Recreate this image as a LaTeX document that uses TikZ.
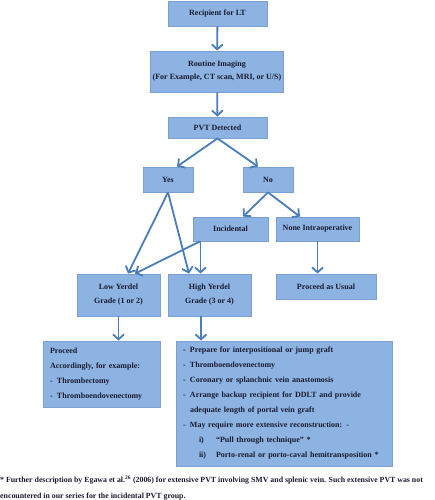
\documentclass[tikz,border=0pt]{standalone}
\usepackage{fontspec}
\setmainfont{Liberation Serif}
\usetikzlibrary{arrows.meta,shadows}

\definecolor{boxfill}{HTML}{8DB3E2}
\definecolor{boxline}{HTML}{7A9FD0}
\definecolor{flowblue}{HTML}{4A7EBB}
\definecolor{ink}{HTML}{1A1A2E}

\begin{document}
\begin{tikzpicture}[x=1pt, y=-1pt,
  box/.style={draw=boxline, fill=boxfill, line width=0.8pt, inner sep=2pt, align=center, text=ink,
    font=\bfseries\fontsize{8}{13}\selectfont,
    drop shadow={shadow xshift=1pt, shadow yshift=-1.2pt, opacity=0.3}},
  listbox/.style={box, align=left, inner xsep=7pt, font=\bfseries\fontsize{8}{15}\selectfont},
  flow/.style={draw=flowblue, line width=1.8pt, -{Straight Barb[length=5pt,width=11pt]}}]

\useasboundingbox (0,0) rectangle (435,500);

% boxes
\node[box, minimum width=99pt, minimum height=25pt] (rec) at (217.5,13.5) {Recipient for LT};
\node[box, minimum width=132pt, minimum height=41pt] (img) at (217,71.5) {Routine Imaging\\(For Example, CT scan, MRI, or U/S)};
\node[box, minimum width=99pt, minimum height=21pt] (pvt) at (217.5,127.5) {PVT Detected};

\node[box, minimum width=50pt, minimum height=25pt] (yes) at (168,179.5) {Yes};
\node[box, minimum width=50pt, minimum height=25pt] (no) at (268,179.5) {No};

\node[box, minimum width=75pt, minimum height=24pt] (inc) at (230.5,229) {Incidental};
\node[box, minimum width=83pt, minimum height=24pt] (none) at (317.5,229) {None Intraoperative};

\node[box, minimum width=83pt, minimum height=42pt, font=\bfseries\fontsize{8}{14}\selectfont] (low) at (118.5,295) {Low Yerdel\\Grade (1 or 2)};
\node[box, minimum width=83pt, minimum height=42pt, font=\bfseries\fontsize{8}{14}\selectfont] (high) at (209.5,295) {High Yerdel\\Grade (3 or 4)};
\node[box, minimum width=100pt, minimum height=25pt] (usual) at (326,286.5) {Proceed as Usual};

\node[listbox, text width=103pt, minimum height=66pt] (proc) at (101.5,374) {Proceed\\
Accordingly, for example:\\
\makebox[7pt][l]{-}Thrombectomy\\
\makebox[7pt][l]{-}Thromboendovenectomy};

\node[listbox, text width=202pt, minimum height=125pt] (plan) at (284,403.5) {\makebox[7pt][l]{-}Prepare for interpositional or jump graft\\
\makebox[7pt][l]{-}Thromboendovenectomy\\
\makebox[7pt][l]{-}Coronary or splanchnic vein anastomosis\\
\makebox[7pt][l]{-}Arrange backup recipient for DDLT and provide\\
\hspace*{7pt}adequate length of portal vein graft\\
\makebox[7pt][l]{-}May require more extensive reconstruction: -\\
\hspace*{16pt}\makebox[17pt][l]{i)}``Pull through technique'' *\\
\hspace*{16pt}\makebox[17pt][l]{ii)}Porto-renal or porto-caval hemitransposition *};

% footnote
\node[anchor=north west, inner sep=0pt, align=left, text=ink, font=\bfseries\fontsize{7.85}{16}\selectfont] (note) at (0,475.5)
  {* Further description by Egawa et al.\textsuperscript{26} (2006) for extensive PVT involving SMV and splenic vein. Such extensive PVT was not\\
  encountered in our series for the incidental PVT group.};

% arrows
\draw[flow] (rec) -- (img);
\draw[flow] (img) -- (pvt);
\draw[flow] (pvt.south) -- ([xshift=9pt]yes.north);
\draw[flow] (pvt.south) -- ([xshift=-10pt]no.north);
\draw[flow] (no.south) -- ([xshift=12.5pt]inc.north);
\draw[flow] (no.south) -- ([xshift=-17.5pt]none.north);
\draw[flow] (yes.south) -- ([xshift=9.5pt]low.north);
\draw[flow] (yes.south) -- ([xshift=-20.5pt]high.north);
\draw[flow] ([xshift=-30.5pt]inc.south) -- ([xshift=16.5pt]low.north);
\draw[flow] ([xshift=-30pt]inc.south) -- ([xshift=-9pt]high.north);
\draw[flow] (none.south) -- (none.south |- usual.north);
\draw[flow] (low.south) -- (low.south |- proc.north);
\draw[flow] ([xshift=-8.5pt]high.south) -- ([xshift=-8.5pt]high.south |- plan.north);

\end{tikzpicture}
\end{document}
